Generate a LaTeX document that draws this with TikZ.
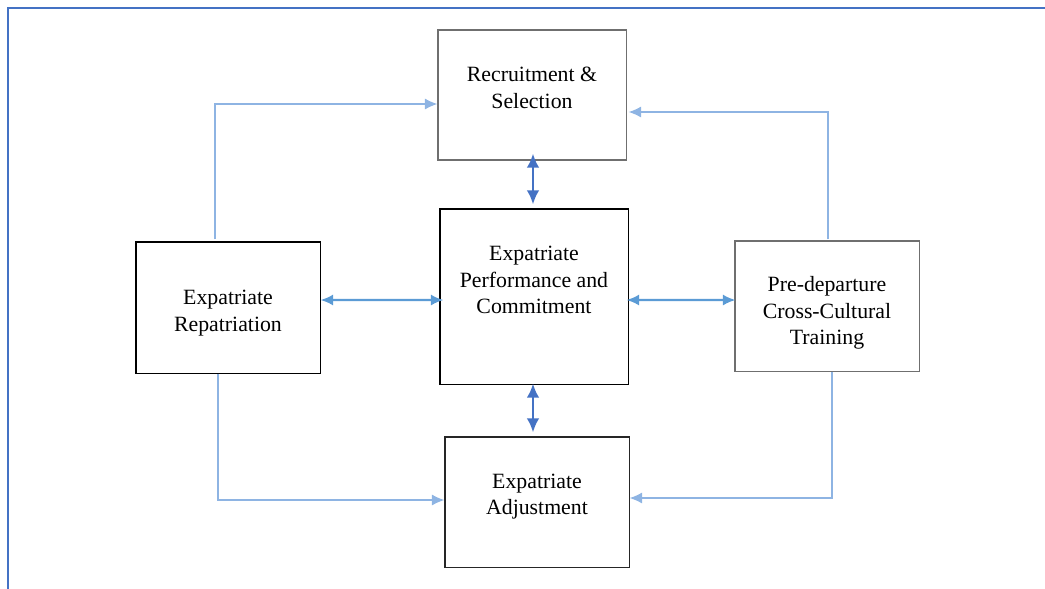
\documentclass[tikz,border=0pt]{standalone}
\usepackage{fontspec}
\setmainfont{Liberation Serif}
\usetikzlibrary{arrows.meta,calc}
\definecolor{azulMarco}{HTML}{4472C4}
\definecolor{azulMedio}{HTML}{5B9BD5}
\definecolor{azulClaro}{HTML}{8EB4E3}
\definecolor{grisBorde}{HTML}{6F6F6F}

\begin{document}
\begin{tikzpicture}[x=0.025cm,y=-0.025cm,>={Latex[length=9pt,width=8pt]},
  caja/.style={draw=grisBorde,line width=0.75pt,minimum width=4.6cm,minimum height=3.25cm},
  texto/.style={font=\fontsize{15.5}{19}\selectfont,align=center,text=black},
  flechaClara/.style={azulClaro,line width=1pt,->},
  flechaMedia/.style={azulMedio,line width=1.5pt,<->},
  flechaOscura/.style={azulMarco,line width=1.9pt,<->,>={Latex[length=10pt,width=9pt]}}]
  \useasboundingbox (0,0) rectangle (1045,588);
  \draw[azulMarco,line width=1.5pt] (8,8) rectangle (1070,610);
  \node[caja,minimum width=4.7cm] (rec) at (532,95) {};
  \node[texto] (recT) at (532,88) {Recruitment \&\\Selection};
  \node[caja,draw=black,minimum width=4.7cm,minimum height=4.375cm] (perf) at (534,296.5) {};
  \node[texto] (perfT) at (534,280) {Expatriate\\Performance and\\Commitment};
  \node[caja,draw=black,minimum height=3.275cm] (rep) at (228,307.5) {};
  \node[texto] (repT) at (228,313) {Expatriate\\Repatriation};
  \node[caja] (pre) at (827,306) {};
  \node[texto] (preT) at (827,313) {Pre-departure\\Cross-Cultural\\Training};
  \node[caja,draw=black!85] (adj) at (537,502) {};
  \node[texto] (adjT) at (537,496.5) {Expatriate\\Adjustment};
  \draw[flechaClara] ($(rep.north)+(-13,-2)$) |- ($(rec.west)+(0,9)$);
  \draw[flechaClara] ($(pre.north)+(1,-1)$) |- ($(rec.east)+(2,17)$);
  \draw[flechaClara] ($(rep.south)+(-10,0)$) |- ($(adj.west)+(0,-2)$);
  \draw[flechaClara] ($(pre.south)+(5,0)$) |- ($(adj.east)+(0,-4)$);
  \draw[flechaOscura] ($(rec.south)+(1,-7)$) -- ($(perf.north)+(-1,-4)$);
  \draw[flechaOscura] ($(perf.south)+(-1,-1)$) -- ($(adj.north)+(-4,-4)$);
  \draw[flechaMedia] ($(rep.east)+(0,-7.5)$) -- ($(perf.west)+(4,3.5)$);
  \draw[flechaMedia] ($(perf.east)+(-2,3.5)$) -- ($(pre.west)+(1,-6)$);
\end{tikzpicture}
\end{document}
